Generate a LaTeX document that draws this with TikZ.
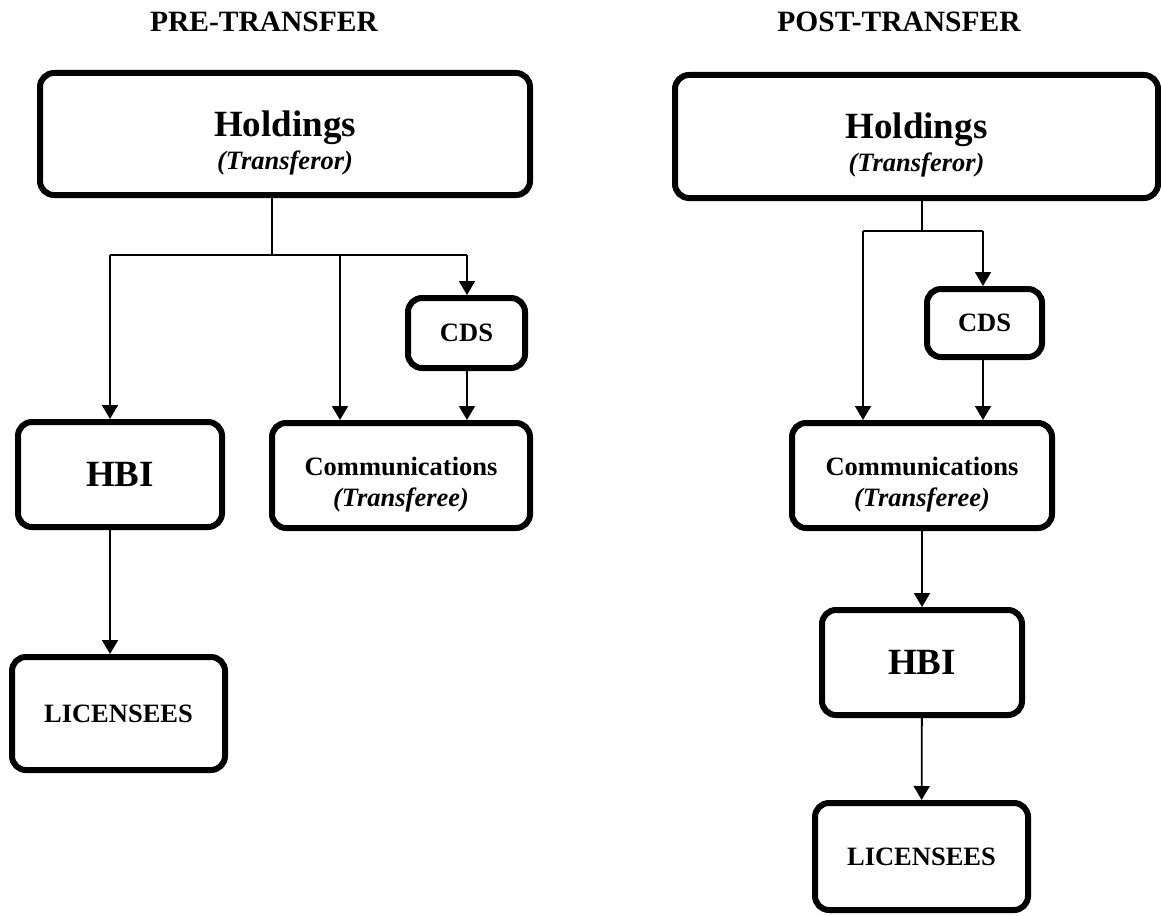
\documentclass[tikz,border=0pt]{standalone}
\usepackage{fontspec}
\setmainfont{Liberation Serif}
\usetikzlibrary{positioning,arrows.meta}

\begin{document}
\begin{tikzpicture}[x=1pt, y=-1pt,
    >={Triangle[width=16pt,length=14pt]},
    box/.style={draw, line width=6pt, rounded corners=14pt, align=center, inner sep=0pt},
    big/.style={font=\fontsize{37}{33}\selectfont\bfseries},
    small/.style={font=\fontsize{26.5}{31}\selectfont\bfseries},
    heading/.style={font=\fontsize{29.5}{32}\selectfont\bfseries},
    wire/.style={line width=1.8pt}]
    \useasboundingbox (0,0) rectangle (1161,915);
    % headings
    \node[heading] (pre) at (264,22) {PRE-TRANSFER};
    \node[heading] (post) at (899,22) {POST-TRANSFER};
    % pre-transfer
    \node[box, big, text height=76pt, minimum width=490pt, minimum height=122pt] (hold1) at (285,134) {Holdings\\{\fontsize{26.5}{33}\selectfont\itshape (Transferor)}};
    \node[box, small, minimum width=117pt, minimum height=70pt] (cds1) at (466.5,333) {CDS};
    \node[box, big, minimum width=204pt, minimum height=105pt] (hbi1) at (120,474.5) {HBI};
    \node[box, small, text height=67pt, minimum width=258pt, minimum height=105pt] (com1) at (401,475.5) {Communications\\{\itshape (Transferee)}};
    \node[box, small, minimum width=213pt, minimum height=113pt] (lic1) at (118.5,713.5) {LICENSEES};
    \coordinate (j1) at (272,255);
    \coordinate (b1) at (110,255);
    \coordinate (b2) at (340,255);
    \coordinate (b3) at (467,255);
    \draw[wire] (hold1.south -| j1) -- (j1);
    \draw[wire] (b1) -- (b3);
    \draw[wire, ->] (b1) -- (b1 |- hbi1.north);
    \draw[wire, ->] (b2) -- (b2 |- com1.north);
    \draw[wire, ->] (b3) -- (b3 |- cds1.north);
    \draw[wire, ->] (cds1.south -| b3) -- (b3 |- com1.north);
    \draw[wire, ->] (hbi1.south -| b1) -- (b1 |- lic1.north);
    % post-transfer
    \node[box, big, text height=76pt, minimum width=483pt, minimum height=123pt] (hold2) at (916.5,136.5) {Holdings\\{\fontsize{26.5}{33}\selectfont\itshape (Transferor)}};
    \node[box, small, minimum width=115pt, minimum height=68pt] (cds2) at (984.5,323) {CDS};
    \node[box, small, text height=67pt, minimum width=260pt, minimum height=105pt] (com2) at (922,475.5) {Communications\\{\itshape (Transferee)}};
    \node[box, big, minimum width=200pt, minimum height=105pt] (hbi2) at (922,662.5) {HBI};
    \node[box, small, minimum width=213pt, minimum height=107pt] (lic2) at (921.5,856.5) {LICENSEES};
    \coordinate (j2) at (922,231);
    \coordinate (c1) at (863,231);
    \coordinate (c2) at (983,231);
    \draw[wire] (hold2.south -| j2) -- (j2);
    \draw[wire] (c1) -- (c2);
    \draw[wire, ->] (c1) -- (c1 |- com2.north);
    \draw[wire, ->] (c2) -- (c2 |- cds2.north);
    \draw[wire, ->] (cds2.south -| c2) -- (c2 |- com2.north);
    \draw[wire, ->] (com2) -- (hbi2);
    \draw[wire, ->] (hbi2) -- (lic2);
\end{tikzpicture}
\end{document}
